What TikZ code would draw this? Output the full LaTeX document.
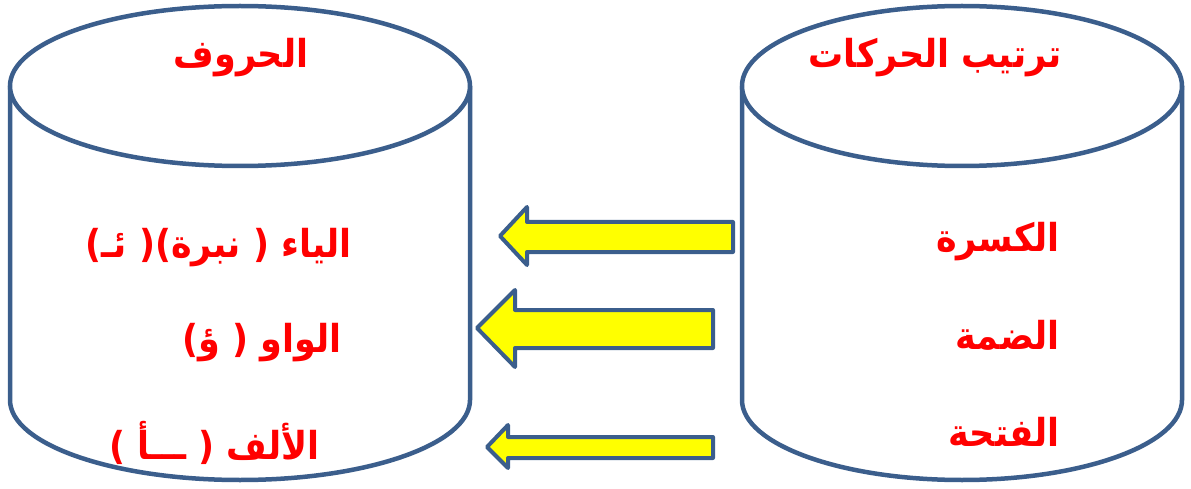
\documentclass[tikz,border=0pt]{standalone}
\usepackage{fontspec}
\TeXXeTstate=1
\newfontfamily\arabicfont[Script=Arabic]{DejaVu Sans}
\definecolor{edgeblue}{HTML}{3B5E8C}
\definecolor{txtred}{HTML}{FF0000}
\definecolor{arrowyellow}{HTML}{FFFF00}
\tikzset{
  cyl/.style={draw=edgeblue, line width=4.5pt, fill=white},
  blockarrow/.style={draw=edgeblue, line width=4pt, fill=arrowyellow, line join=round},
  lbl/.style={text=txtred, font=\arabicfont\bfseries\fontsize{35}{38}\selectfont, inner sep=0pt, yscale=1.1},
}
\begin{document}
\begin{tikzpicture}[x=1pt,y=-1pt]
\useasboundingbox (0,0) rectangle (1191,489);
% left cylinder
\draw[cyl] (10,86) -- (10,400) arc[start angle=180,end angle=360,x radius=230pt,y radius=80pt] -- (470,86);
\draw[cyl] (240,86) ellipse[x radius=230pt,y radius=80pt];
% right cylinder
\draw[cyl] (742,86) -- (742,400) arc[start angle=180,end angle=360,x radius=220pt,y radius=80pt] -- (1182,86);
\draw[cyl] (962,86) ellipse[x radius=220pt,y radius=80pt];
% arrows
\draw[blockarrow] (500,236) -- (527,207) -- (527,222) -- (733,222) -- (733,252) -- (527,252) -- (527,265) -- cycle;
\draw[blockarrow] (477,328) -- (515,290) -- (515,310) -- (713,310) -- (713,348) -- (515,348) -- (515,367) -- cycle;
\draw[blockarrow] (487,447) -- (508,425) -- (508,437) -- (713,437) -- (713,458) -- (508,458) -- (508,468) -- cycle;
% titles
\node[lbl] (t1) at (241,58) {\beginR الحروف\endR};
\node[lbl] (t2) at (935,58) {\beginR ترتيب الحركات\endR};
% left items
\node[lbl, anchor=east] (l1) at (352,248) {\beginR الياء ( نبرة)( ئـ)\endR};
\node[lbl, anchor=east] (l2) at (342,343) {\beginR الواو ( ؤ)\endR};
\node[lbl, anchor=east] (l3) at (320,443) {\beginR الألف ( ـــأ )\endR};
% right items
\node[lbl, anchor=east] (r1) at (1060,242) {\beginR الكسرة\endR};
\node[lbl, anchor=east] (r2) at (1060,335) {\beginR الضمة\endR};
\node[lbl, anchor=east] (r3) at (1060,432) {\beginR الفتحة\endR};
\end{tikzpicture}
\end{document}
